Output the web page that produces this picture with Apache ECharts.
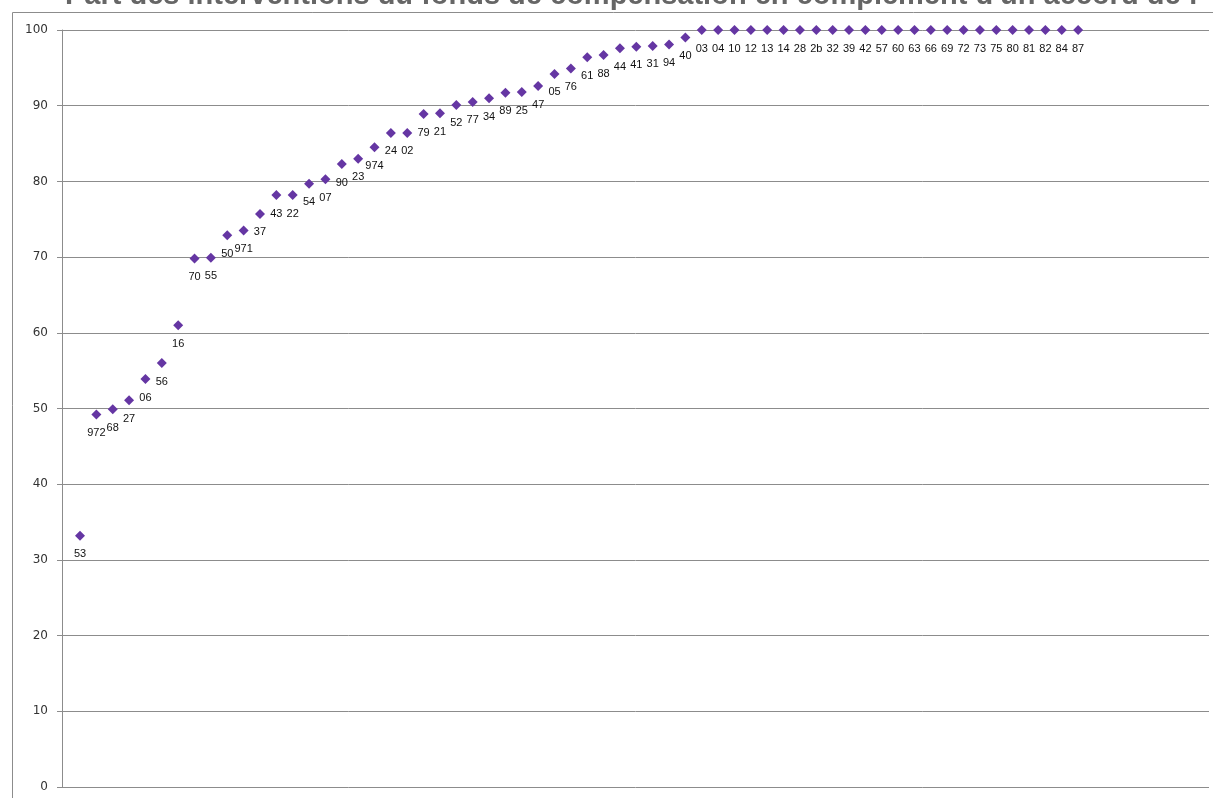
<!DOCTYPE html>
<html>
<head>
<meta charset="utf-8">
<script src="https://cdn.jsdelivr.net/npm/echarts@6/dist/echarts.min.js"></script>
<style>
  html, body { margin: 0; padding: 0; background: #fff; }
  #chart { width: 1213px; height: 798px; }
</style>
</head>
<body>
<div id="chart"></div>
<script>
  // département codes, in plotting order
  var codes = [
    '53', '972', '68', '27', '06', '56', '16', '70', '55', '50', '971', '37', '43', '22',
    '54', '07', '90', '23', '974', '24', '02', '79', '21', '52', '77', '34', '89', '25',
    '47', '05', '76', '61', '88', '44', '41', '31', '94', '40', '03', '04', '10', '12',
    '13', '14', '28', '2b', '32', '39', '42', '57', '60', '63', '66', '69', '72', '73',
    '75', '80', '81', '82', '84', '87'
  ];
  // part des interventions (%)
  var parts = [
    33.2, 49.2, 49.9, 51.1, 53.9, 56.0, 61.0, 69.8, 69.9, 72.9, 73.5, 75.7, 78.2, 78.2,
    79.7, 80.3, 82.3, 83.0, 84.5, 86.4, 86.4, 88.9, 89.0, 90.1, 90.5, 91.0, 91.7, 91.8,
    92.6, 94.2, 94.9, 96.4, 96.7, 97.6, 97.8, 97.9, 98.1, 99.0, 100, 100, 100, 100,
    100, 100, 100, 100, 100, 100, 100, 100, 100, 100, 100, 100, 100, 100,
    100, 100, 100, 100, 100, 100
  ];
  var yTicks = [0, 10, 20, 30, 40, 50, 60, 70, 80, 90, 100];

  var points = codes.map(function (c, i) {
    return [i + 1, parts[i], c];
  });

  var chart = echarts.init(document.getElementById('chart'));
  chart.setOption({
    animation: false,
    graphic: [
      {
        type: 'rect',
        shape: { x: 12.5, y: 12.5, width: 1400, height: 1000 },
        style: { fill: 'none', stroke: '#8c8c8c', lineWidth: 1 },
        silent: true
      },
      {
        type: 'text',
        left: 65,
        top: -19,
        style: {
          text: "Part des interventions du fonds de compensation en complément d'un accord de f",
          font: 'bold 29px "Liberation Sans", Arial, sans-serif',
          fill: '#666666'
        }
      }
    ],
    grid: { left: 62, right: 4, top: 30, bottom: 11, containLabel: false },
    xAxis: {
      type: 'value',
      min: -0.1,
      max: 70,
      axisLine: { show: false },
      axisTick: { show: false },
      axisLabel: { show: false },
      splitLine: { show: false }
    },
    yAxis: {
      type: 'value',
      min: yTicks[0],
      max: yTicks[yTicks.length - 1],
      interval: 10,
      axisLine: { show: true, onZero: false, lineStyle: { color: '#8c8c8c', width: 1 } },
      axisTick: { show: true, length: 5, lineStyle: { color: '#8c8c8c' } },
      axisLabel: {
        margin: 14,
        color: '#333',
        fontSize: 12,
        fontFamily: '"DejaVu Sans", Verdana, sans-serif'
      },
      splitLine: { show: true, lineStyle: { color: '#8c8c8c', width: 1 } }
    },
    series: [
      {
        type: 'scatter',
        data: points,
        symbol: 'diamond',
        symbolSize: [10, 10],
        itemStyle: { color: '#6536a3', opacity: 1 },
        label: {
          show: true,
          position: 'bottom',
          distance: 8,
          formatter: function (p) { return p.value[2]; },
          color: '#111',
          fontSize: 11,
          fontFamily: '"Liberation Sans", Arial, sans-serif'
        },
        labelLayout: { hideOverlap: false }
      }
    ]
  });
</script>
</body>
</html>
